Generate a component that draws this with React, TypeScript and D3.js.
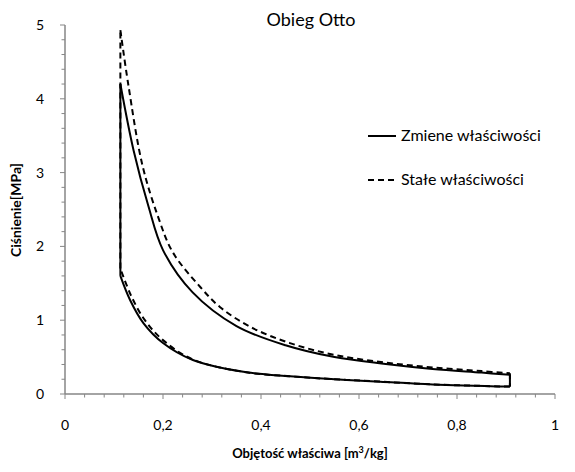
import React from "react";
import * as d3 from "d3";

// cycle: [v m3/kg, p MPa]
const zmieneCompression: [number, number][] = [
    [0.908, 0.1], [0.75, 0.13], [0.643, 0.167], [0.55, 0.2], [0.459, 0.24],
    [0.364, 0.3], [0.261, 0.46], [0.2, 0.69], [0.16, 0.96], [0.133, 1.27], [0.113, 1.6]
];
const zmieneExpansion: [number, number][] = [
    [0.113, 4.2], [0.14, 3.3], [0.17, 2.55], [0.2, 1.95], [0.26, 1.38], [0.35, 0.92],
    [0.45, 0.66], [0.55, 0.5], [0.65, 0.41], [0.75, 0.34], [0.85, 0.29], [0.908, 0.26]
];
const staleCompression: [number, number][] = [
    [0.908, 0.1], [0.75, 0.13], [0.643, 0.168], [0.55, 0.2], [0.459, 0.24],
    [0.364, 0.3], [0.26, 0.47], [0.2, 0.73], [0.163, 1.0], [0.135, 1.33], [0.113, 1.7]
];
const staleExpansion: [number, number][] = [
    [0.113, 4.93], [0.129, 4.2], [0.158, 3.1], [0.19, 2.4], [0.22, 1.92], [0.276, 1.45],
    [0.316, 1.18], [0.378, 0.91], [0.459, 0.69], [0.55, 0.53], [0.65, 0.43],
    [0.75, 0.36], [0.85, 0.31], [0.908, 0.28]
];

const xTicks = [0, 0.2, 0.4, 0.6, 0.8, 1];
const yTicks = [0, 1, 2, 3, 4, 5];
const seriesNames = ["Zmiene właściwości", "Stałe właściwości"];

const font = "Lato, 'Open Sans', sans-serif";

const App = () => {
    const width = 575;
    const height = 472;

    const x = d3.scaleLinear().domain([0, 1]).range([65, 555]);
    const y = d3.scaleLinear().domain([0, 5]).range([394, 25]);

    const curve = d3
        .line<[number, number]>()
        .x(d => x(d[0]))
        .y(d => y(d[1]))
        .curve(d3.curveCatmullRom.alpha(0.5));
    const straight = d3
        .line<[number, number]>()
        .x(d => x(d[0]))
        .y(d => y(d[1]));

    // compression, left vertical, expansion, right vertical
    const cyclePaths = (comp: [number, number][], exp: [number, number][]) => [
        curve(comp),
        straight([comp[comp.length - 1], exp[0]]),
        curve(exp),
        straight([exp[exp.length - 1], comp[0]])
    ];

    const minorX = d3.range(0, 1.0001, 0.04);
    const minorY = d3.range(0, 5.0001, 0.2);
    const axisColor = "#868686";

    const series = [
        { name: seriesNames[0], paths: cyclePaths(zmieneCompression, zmieneExpansion), dash: "none" },
        { name: seriesNames[1], paths: cyclePaths(staleCompression, staleExpansion), dash: "6 4" }
    ];

    return (
        <svg
            width={width}
            height={height}
            style={{ position: "fixed", left: 0, top: 0, background: "#fff" }}
            fontFamily={font}
        >
            <text x={311} y={26} textAnchor="middle" fontSize={18}>Obieg Otto</text>

            {/* axes */}
            <line x1={x(0)} x2={x(0)} y1={y(5)} y2={y(0)} stroke={axisColor} strokeWidth={1.5} />
            <line x1={x(0)} x2={x(1)} y1={y(0)} y2={y(0)} stroke={axisColor} strokeWidth={1.5} />
            {minorX.map((v, i) => (
                <line key={"mx" + i} x1={x(v)} x2={x(v)} y1={y(0)}
                    y2={y(0) + (i % 5 === 0 ? 5 : 3.5)} stroke={axisColor} strokeWidth={1} />
            ))}
            {minorY.map((v, i) => (
                <line key={"my" + i} x1={x(0) - (i % 5 === 0 ? 5 : 3.5)} x2={x(0)} y1={y(v)}
                    y2={y(v)} stroke={axisColor} strokeWidth={1} />
            ))}
            {yTicks.map(t => (
                <text key={"yt" + t} x={44} y={y(t) + 5} textAnchor="end" fontSize={14}>{t}</text>
            ))}
            {xTicks.map(t => (
                <text key={"xt" + t} x={x(t)} y={430} textAnchor="middle" fontSize={14}>
                    {String(t).replace(".", ",")}
                </text>
            ))}
            <text x={310} y={458} textAnchor="middle" fontSize={13} fontWeight="bold">
                Objętość właściwa [m<tspan dy={-5} fontSize={9}>3</tspan><tspan dy={5}>/kg]</tspan>
            </text>
            <text transform="translate(21,210) rotate(-90)" textAnchor="middle" fontSize={14}
                fontWeight="bold">Ciśnienie[MPa]</text>

            {/* data */}
            {series.map(s => (
                <g key={s.name}>
                    {s.paths.map((d, i) => (
                        <path key={i} d={d || ""} fill="none" stroke="#000" strokeWidth={2}
                            strokeDasharray={s.dash} />
                    ))}
                </g>
            ))}

            {/* legend */}
            {series.map((s, i) => (
                <g key={"lg" + i} transform={`translate(368,${136 + i * 44})`}>
                    <line x1={0} x2={28} y1={0} y2={0} stroke="#000" strokeWidth={2}
                        strokeDasharray={s.dash} />
                    <text x={33} y={5} fontSize={16}>{s.name}</text>
                </g>
            ))}
        </svg>
    );
};

export default App;
